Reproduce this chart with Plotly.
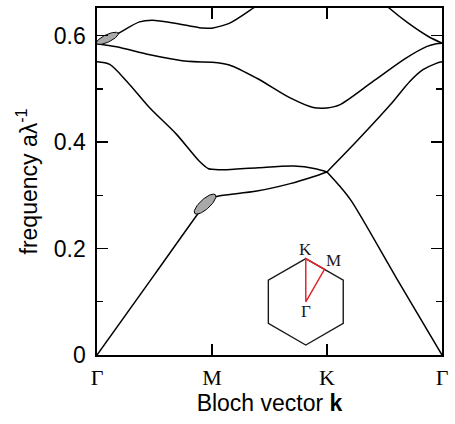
import numpy as np
import plotly.graph_objects as go

# ---------------- data ----------------
k_ticks = [0, 1, 2, 3]
k_labels = ['Γ', 'M', 'K', 'Γ']
f_ticks = [0, 0.2, 0.4, 0.6]
f_labels = ['0', '0.2', '0.4', '0.6']
f_minor = [0.1, 0.3, 0.5]

band1_k = [0, 0.5, 0.9, 0.96, 1.0, 1.1, 1.39, 1.68, 1.88, 2.0, 2.1, 2.21, 2.6, 3.0]
band1_f = [0, 0.151, 0.272, 0.288, 0.296, 0.300, 0.308, 0.322, 0.335, 0.344, 0.320, 0.290, 0.146, 0]

band2_k = [0, 0.11, 0.26, 0.46, 0.69, 0.89, 0.97, 1.0, 1.1, 1.4, 1.71, 1.9, 2.0, 2.26, 2.55, 2.72, 2.835, 2.95, 3.0]
band2_f = [0.551, 0.546, 0.514, 0.464, 0.415, 0.364, 0.350, 0.349, 0.348, 0.352, 0.355, 0.350, 0.344,
           0.402, 0.470, 0.514, 0.536, 0.548, 0.551]

band3_k = [0, 0.17, 0.46, 0.74, 1.0, 1.15, 1.39, 1.68, 1.88, 2.0, 2.11, 2.40, 2.68, 2.87, 2.95, 3.0]
band3_f = [0.585, 0.579, 0.564, 0.553, 0.550, 0.545, 0.520, 0.483, 0.465, 0.464, 0.470, 0.514, 0.557, 0.580, 0.585, 0.586]

band4_k = [0, 0.18, 0.37, 0.48, 0.69, 0.89, 1.0, 1.15, 1.36, 1.6, 2.0, 2.4, 2.54, 2.71, 2.885, 3.0]
band4_f = [0.585, 0.604, 0.626, 0.629, 0.623, 0.615, 0.614, 0.623, 0.652, 0.69, 0.72, 0.68, 0.652, 0.623, 0.598, 0.586]

bands = [(band1_k, band1_f), (band2_k, band2_f), (band3_k, band3_f), (band4_k, band4_f)]

# highlighted modes (grey ellipses)
mode_k = [0.09, 0.94]
mode_f = [0.595, 0.2835]

# ---------------- layout geometry ----------------
W, H = 455, 424
ML, MR, MT, MB = 97, 11, 6, 69
PW, PH = W - ML - MR, H - MT - MB
XR = [0, 3]
YR = [0, 0.652]
px_per_k = PW / (XR[1] - XR[0])
px_per_f = PH / (YR[1] - YR[0])

fig = go.Figure()

# bands, drawn segment by segment between high-symmetry points
for kk, ff in bands:
    kk = np.array(kk, float)
    ff = np.array(ff, float)
    for a, b in [(0, 1), (1, 2), (2, 3)]:
        m = (kk >= a) & (kk <= b)
        fig.add_trace(go.Scatter(x=kk[m], y=ff[m], mode='lines',
                                 line=dict(color='black', width=1.5, shape='spline', smoothing=0.8),
                                 hoverinfo='skip', showlegend=False))

# grey ellipses
ell_style = [(12, 3.8, 25), (14, 5, 42)]
t = np.linspace(0, 2 * np.pi, 80)
for kc, fc, (a_px, b_px, ang) in zip(mode_k, mode_f, ell_style):
    th = np.radians(ang)
    dx = a_px * np.cos(t) * np.cos(th) - b_px * np.sin(t) * np.sin(th)
    dy = a_px * np.cos(t) * np.sin(th) + b_px * np.sin(t) * np.cos(th)
    fig.add_trace(go.Scatter(x=kc + dx / px_per_k, y=fc + dy / px_per_f, mode='lines',
                             fill='toself', fillcolor='#a9a9a9',
                             line=dict(color='black', width=1),
                             hoverinfo='skip', showlegend=False))

# inset: hexagonal Brillouin zone
ang = np.radians(90 + 60 * np.arange(7))
hx, hy = np.cos(ang), np.sin(ang)
fig.add_trace(go.Scatter(x=hx, y=hy, mode='lines', xaxis='x2', yaxis='y2',
                         line=dict(color='#1a1a1a', width=1.4), hoverinfo='skip', showlegend=False))
G = (0.0, 0.0)
K = (0.0, 1.0)
M = ((hx[0] + hx[5]) / 2, (hy[0] + hy[5]) / 2)
fig.add_trace(go.Scatter(x=[G[0], K[0], M[0], G[0]], y=[G[1], K[1], M[1], G[1]], mode='lines',
                         xaxis='x2', yaxis='y2', line=dict(color='#e3262b', width=1.5),
                         hoverinfo='skip', showlegend=False))

serif = 'Liberation Serif, Times New Roman, serif'
sans = 'Liberation Sans, Arial, Helvetica, sans-serif'

# inset placement
R_px = 43.5
cx_px, cy_px = 307.0, 301.5
ixr = [-1.5, 1.5]
iyr = [-1.2, 1.8]
x_dom = [(cx_px + ixr[0] * R_px - ML) / PW, (cx_px + ixr[1] * R_px - ML) / PW]
y_dom = [(MT + PH - (cy_px - iyr[0] * R_px)) / PH, (MT + PH - (cy_px - iyr[1] * R_px)) / PH]

annots = []
for (px, py), txt, xs, ys in [(K, 'K', 0, 9), (M, 'M', 9, 9), (G, 'Γ', 0, -10)]:
    annots.append(dict(x=px, y=py, xref='x2', yref='y2', text=txt, showarrow=False,
                       xshift=xs, yshift=ys, font=dict(family=serif, size=17, color='#1a1a1a')))

fig.update_layout(
    width=W, height=H,
    margin=dict(l=ML, r=MR, t=MT, b=MB),
    paper_bgcolor='white', plot_bgcolor='rgba(0,0,0,0)',
    showlegend=False, hovermode=False,
    xaxis=dict(range=XR, tickvals=k_ticks, ticktext=k_labels, ticks='inside', ticklen=11,
               tickwidth=1.3, tickcolor='black', mirror='allticks', showline=True, linewidth=1.6,
               linecolor='black', showgrid=False, zeroline=False, ticklabelstandoff=2,
               ticklabeloverflow='allow',
               tickfont=dict(family=serif, size=22, color='black'),
               title=dict(text='Bloch vector <b>k</b>', font=dict(family=sans, size=23, color='black'),
                          standoff=1)),
    yaxis=dict(range=YR, tickvals=f_ticks, ticktext=f_labels, ticks='inside', ticklen=11,
               tickwidth=1.3, tickcolor='black', mirror='allticks', showline=True, linewidth=1.6,
               linecolor='black', showgrid=False, zeroline=False, ticklabelstandoff=5,
               ticklabeloverflow='allow',
               tickfont=dict(family=sans, size=23, color='black'),
               minor=dict(tickvals=f_minor, ticks='inside', ticklen=6, tickwidth=1.3, tickcolor='black'),
               title=dict(text='frequency aλ<sup>-1</sup>', font=dict(family=sans, size=23, color='black'),
                          standoff=10)),
    xaxis2=dict(domain=x_dom, range=ixr, visible=False, anchor='y2'),
    yaxis2=dict(domain=y_dom, range=iyr, visible=False, anchor='x2'),
    annotations=annots,
)

fig.write_html('out.html', config={'displayModeBar': False, 'staticPlot': True},
               post_script="document.body.style.margin='0';")
